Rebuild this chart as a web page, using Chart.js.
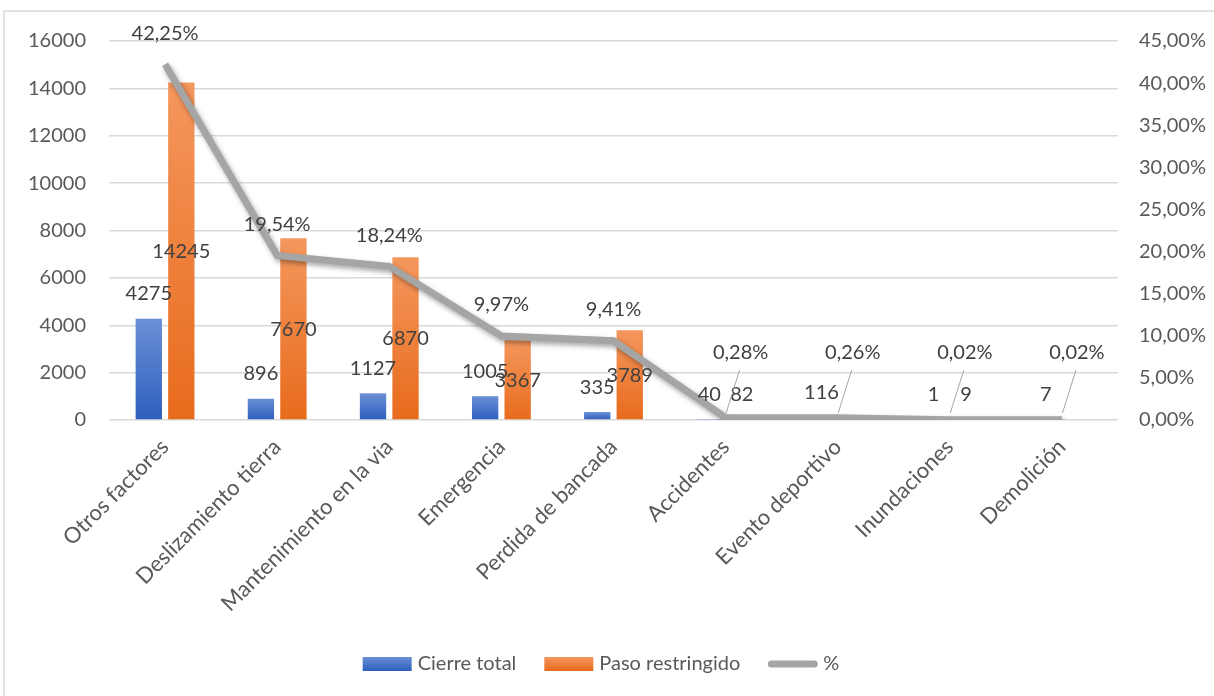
<!DOCTYPE html>
<html>
<head>
<meta charset="utf-8">
<script src="https://cdn.jsdelivr.net/npm/chart.js"></script>
<style>
  html, body { margin: 0; padding: 0; background: #fff; }
  #wrap { position: relative; width: 1214px; height: 696px; }
</style>
</head>
<body>
<div id="wrap"><canvas id="grafico"></canvas></div>
<script>
// Causas de cierre / paso restringido
const categorias = ['Otros factores', 'Deslizamiento tierra', 'Mantenimiento en la via', 'Emergencia',
  'Perdida de bancada', 'Accidentes', 'Evento deportivo', 'Inundaciones', 'Demolición'];
const cierreTotal = [4275, 896, 1127, 1005, 335, 40, 116, 1, 7];
const pasoRestringido = [14245, 7670, 6870, 3367, 3789, 82, null, 9, null];
const porcentaje = [42.25, 19.54, 18.24, 9.97, 9.41, 0.28, 0.26, 0.02, 0.02];

const FONT = 'Lato, "Open Sans", sans-serif';
const AZUL = ['#6b8fd6', '#2d5fbe'];
const NARANJA = ['#f4975d', '#e86b1c'];
const GRIS = '#a5a5a5';

const fmtPct = v => v.toFixed(2).replace('.', ',') + '%';

// degradado vertical por barra (de la punta a la base)
function relleno(colores) {
  return c => {
    if (c.type !== 'data') return colores[1];
    const chart = c.chart;
    const ys = chart.scales.y;
    if (!ys || !chart.chartArea || c.raw == null) return colores[1];
    const y0 = ys.getPixelForValue(0);
    const y1 = ys.getPixelForValue(c.raw);
    if (!isFinite(y1) || y0 - y1 < 1) return colores[1];
    const g = chart.ctx.createLinearGradient(0, y1, 0, y0);
    g.addColorStop(0, colores[0]);
    g.addColorStop(1, colores[1]);
    return g;
  };
}

// marco gris alrededor del grafico
const marco = {
  id: 'marco',
  beforeDraw(chart) {
    const ctx = chart.ctx;
    ctx.save();
    ctx.strokeStyle = '#d9d9d9';
    ctx.lineWidth = 1.5;
    ctx.strokeRect(4, 11, 1400, 900);
    ctx.restore();
  }
};

// sombra de la linea de porcentaje
const sombra = {
  id: 'sombra',
  beforeDatasetDraw(chart, args) {
    if (args.meta.type !== 'line') return;
    const ctx = chart.ctx;
    ctx.save();
    ctx.shadowColor = 'rgba(0,0,0,0.35)';
    ctx.shadowBlur = 5;
    ctx.shadowOffsetX = 2;
    ctx.shadowOffsetY = 3;
  },
  afterDatasetDraw(chart, args) {
    if (args.meta.type !== 'line') return;
    chart.ctx.restore();
  }
};

// etiquetas de valores
const etiquetas = {
  id: 'etiquetas',
  afterDatasetsDraw(chart) {
    const ctx = chart.ctx;
    const ys = chart.scales.y;
    const base = ys.getPixelForValue(0);
    ctx.save();
    ctx.font = '20px ' + FONT;
    ctx.fillStyle = '#404040';
    ctx.textAlign = 'center';
    ctx.textBaseline = 'middle';

    chart.getDatasetMeta(0).data.forEach((bar, i) => {
      if (cierreTotal[i] == null) return;
      ctx.fillText(String(cierreTotal[i]), bar.x, bar.y - 25);
    });
    chart.getDatasetMeta(1).data.forEach((bar, i) => {
      if (pasoRestringido[i] == null) return;
      const y = Math.min((bar.y + base) / 2, base - 25);
      ctx.fillText(String(pasoRestringido[i]), bar.x, y);
    });
    chart.getDatasetMeta(2).data.forEach((pt, i) => {
      const v = porcentaje[i];
      if (v >= 1) {
        ctx.fillText(fmtPct(v), pt.x, pt.y - 31);
      } else {
        ctx.fillText(fmtPct(v), pt.x + 15, base - 67);
        ctx.strokeStyle = '#a6a6a6';
        ctx.lineWidth = 1;
        ctx.beginPath();
        ctx.moveTo(pt.x + 14, base - 50);
        ctx.lineTo(pt.x + 0.5, base - 7);
        ctx.stroke();
      }
    });
    ctx.restore();
  }
};

// leyenda inferior
const leyenda = {
  id: 'leyenda',
  afterDraw(chart) {
    const ctx = chart.ctx;
    ctx.save();
    ctx.font = '20px ' + FONT;
    ctx.textBaseline = 'middle';
    const items = [
      { texto: 'Cierre total', tipo: 'caja', col: AZUL },
      { texto: 'Paso restringido', tipo: 'caja', col: NARANJA },
      { texto: '%', tipo: 'linea', col: GRIS }
    ];
    const caja = 49, sep = 6, hueco = 28;
    let total = 0;
    items.forEach((it, k) => {
      it.w = ctx.measureText(it.texto).width;
      total += caja + sep + it.w + (k < items.length - 1 ? hueco : 0);
    });
    let x = 601 - total / 2;
    const yc = 664;
    items.forEach(it => {
      if (it.tipo === 'caja') {
        const g = ctx.createLinearGradient(0, yc - 7, 0, yc + 7);
        g.addColorStop(0, it.col[0]);
        g.addColorStop(1, it.col[1]);
        ctx.fillStyle = g;
        ctx.fillRect(x, yc - 7, caja, 14);
      } else {
        ctx.strokeStyle = it.col;
        ctx.lineWidth = 7;
        ctx.lineCap = 'round';
        ctx.beginPath();
        ctx.moveTo(x + 3, yc);
        ctx.lineTo(x + caja - 3, yc);
        ctx.stroke();
      }
      x += caja + sep;
      ctx.fillStyle = '#595959';
      ctx.textAlign = 'left';
      ctx.fillText(it.texto, x, yc);
      x += it.w + hueco;
    });
    ctx.restore();
  }
};

const grafico = new Chart(document.getElementById('grafico'), {
  data: {
    labels: categorias,
    datasets: [
      {
        type: 'bar',
        label: 'Cierre total',
        data: cierreTotal,
        backgroundColor: relleno(AZUL),
        yAxisID: 'y',
        order: 1,
        categoryPercentage: 0.58,
        barPercentage: 0.81
      },
      {
        type: 'bar',
        label: 'Paso restringido',
        data: pasoRestringido,
        backgroundColor: relleno(NARANJA),
        yAxisID: 'y',
        order: 1,
        categoryPercentage: 0.58,
        barPercentage: 0.81
      },
      {
        type: 'line',
        label: '%',
        data: porcentaje,
        borderColor: GRIS,
        borderWidth: 7,
        pointRadius: 0,
        tension: 0,
        yAxisID: 'y1',
        order: 0
      }
    ]
  },
  options: {
    responsive: true,
    maintainAspectRatio: false,
    animation: false,
    layout: { padding: { top: 41, left: 0, right: 0, bottom: 0 } },
    plugins: {
      legend: { display: false },
      tooltip: { enabled: false }
    },
    scales: {
      x: {
        grid: { display: false },
        border: { display: false },
        ticks: {
          autoSkip: false,
          minRotation: 45,
          maxRotation: 45,
          padding: 6,
          color: '#595959',
          font: { family: FONT, size: 22 }
        },
        afterFit: s => { s.height = 276; }
      },
      y: {
        position: 'left',
        min: 0,
        max: 16000,
        ticks: {
          stepSize: 2000,
          padding: 23,
          color: '#595959',
          font: { family: FONT, size: 20 },
          callback: v => String(v)
        },
        grid: { color: '#d9d9d9', lineWidth: 1.5, drawTicks: false },
        border: { display: false },
        afterFit: s => { s.width = 109; }
      },
      y1: {
        position: 'right',
        min: 0,
        max: 45,
        ticks: {
          stepSize: 5,
          padding: 21,
          color: '#595959',
          font: { family: FONT, size: 20 },
          callback: v => fmtPct(v)
        },
        grid: { display: false, drawTicks: false },
        border: { display: false },
        afterFit: s => { s.width = 96; }
      }
    }
  },
  plugins: [marco, sombra, etiquetas, leyenda]
});
</script>
</body>
</html>
